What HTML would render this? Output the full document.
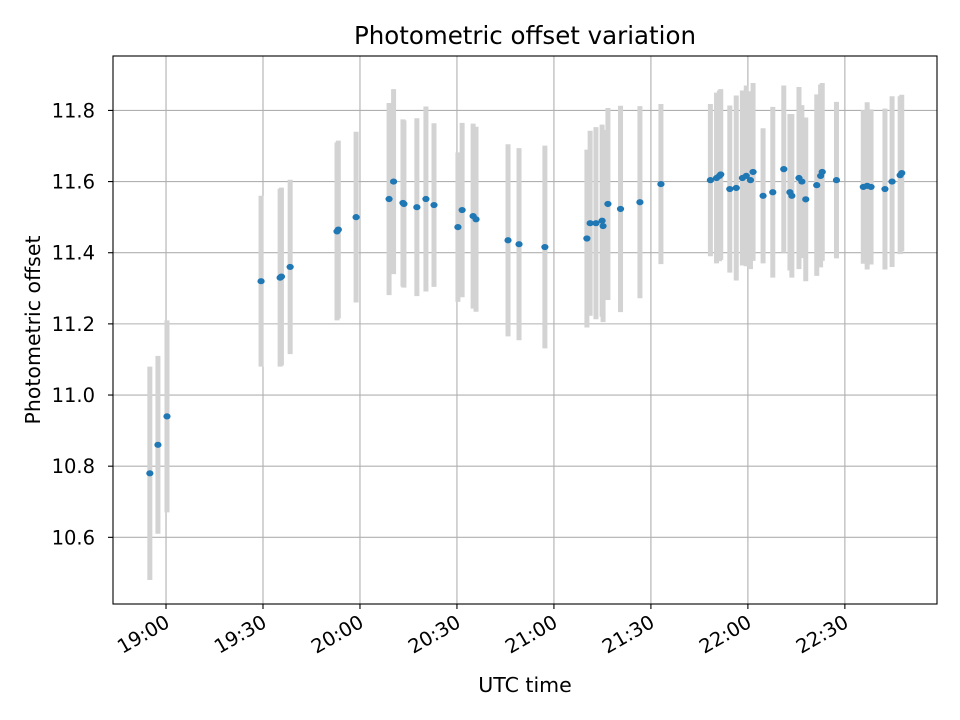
<!DOCTYPE html>
<html><head><meta charset="utf-8"><style>
body{margin:0;background:#fff}
svg{display:block;font-family:"DejaVu Sans","Liberation Sans",sans-serif}
</style></head><body>
<svg id="chart" width="960" height="720" viewBox="0 0 960 720">
<rect width="960" height="720" fill="#fff"/>
<text x="525" y="44" font-size="24.5" text-anchor="middle">Photometric offset variation</text>
<g id="grid"></g><g id="bars"></g><g id="pts"></g><g id="axes"></g>
<text x="525" y="692" font-size="20.5" text-anchor="middle">UTC time</text>
<text transform="translate(40,330) rotate(-90)" font-size="20.5" text-anchor="middle">Photometric offset</text>
</svg>
<script>
// minutes after 19:00 UTC
const times=[-5,-2.5,0.3,29.4,35.3,35.7,38.4,52.9,53.3,58.8,69,70.4,73.3,73.6,77.6,80.4,82.9,90.3,91.6,95,95.9,105.8,109.2,117.2,130.2,131.2,133,134.9,135.2,136.7,140.6,146.6,153.1,168.4,170.3,171.2,171.6,174.4,176.4,178.3,179.5,180.8,181.6,184.7,187.7,191.1,193,193.6,195.8,196.7,197.9,201.3,202.5,203,207.4,215.7,216.9,218.1,222.4,224.6,227.1,227.6];
const offsets=[10.78,10.86,10.94,11.32,11.33,11.333,11.36,11.46,11.465,11.50,11.551,11.60,11.54,11.537,11.528,11.551,11.534,11.472,11.52,11.503,11.494,11.435,11.424,11.416,11.44,11.483,11.483,11.49,11.475,11.537,11.523,11.542,11.593,11.604,11.61,11.616,11.62,11.579,11.582,11.61,11.616,11.604,11.627,11.56,11.57,11.635,11.57,11.56,11.61,11.60,11.55,11.59,11.616,11.627,11.604,11.585,11.588,11.585,11.579,11.60,11.618,11.624];
const errors=[0.3,0.25,0.27,0.24,0.25,0.25,0.245,0.25,0.25,0.24,0.27,0.26,0.235,0.235,0.25,0.26,0.23,0.21,0.245,0.26,0.26,0.27,0.27,0.285,0.25,0.26,0.27,0.27,0.27,0.27,0.29,0.27,0.225,0.214,0.24,0.24,0.24,0.235,0.26,0.246,0.254,0.25,0.25,0.19,0.24,0.235,0.22,0.23,0.256,0.215,0.23,0.255,0.257,0.25,0.22,0.216,0.235,0.218,0.226,0.24,0.222,0.22];
const xTickVals=[0,30,60,90,120,150,180,210];
const xTickLabels=["19:00","19:30","20:00","20:30","21:00","21:30","22:00","22:30"];
const yTickVals=[10.6,10.8,11.0,11.2,11.4,11.6,11.8];
const yTickLabels=["10.6","10.8","11.0","11.2","11.4","11.6","11.8"];

const L=113,R=937,T=56,B=604;
const xMin=-16.4,xMax=238.5,yMin=10.4126,yMax=11.953;
const sx=v=>L+(v-xMin)/(xMax-xMin)*(R-L);
const sy=v=>B-(v-yMin)/(yMax-yMin)*(B-T);
const NS="http://www.w3.org/2000/svg";
function mk(tag,attrs,parent){const e=document.createElementNS(NS,tag);for(const k in attrs)e.setAttribute(k,attrs[k]);parent.appendChild(e);return e;}
const grid=document.getElementById('grid'),bars=document.getElementById('bars'),pts=document.getElementById('pts'),axes=document.getElementById('axes');
xTickVals.forEach((v,i)=>{
  const x=sx(v);
  const g=mk('line',{x1:x,x2:x,y1:T,y2:B,stroke:'#b0b0b0','stroke-width':1.1},grid);
  
  
  mk('line',{x1:x,x2:x,y1:B,y2:B+5,stroke:'#000','stroke-width':1.1},axes);
  const t=mk('text',{x:x+5,y:B+22,'font-size':19.5,'text-anchor':'end',transform:`rotate(-30 ${x+5} ${B+22})`},axes);
  t.textContent=xTickLabels[i];
  
  
});
yTickVals.forEach((v,i)=>{
  const y=sy(v);
  const g=mk('line',{x1:L,x2:R,y1:y,y2:y,stroke:'#b0b0b0','stroke-width':1.1},grid);
  
  
  mk('line',{x1:L-5,x2:L,y1:y,y2:y,stroke:'#000','stroke-width':1.1},axes);
  const t=mk('text',{x:L-18,y:y+7,'font-size':19.5,'text-anchor':'end'},axes);
  t.textContent=yTickLabels[i];
  
  
});
times.forEach((tm,i)=>{
  const x=sx(tm);
  const b=mk('line',{x1:x,x2:x,y1:sy(offsets[i]+errors[i]),y2:sy(offsets[i]-errors[i]),stroke:'#d3d3d3','stroke-width':5},bars);
  
  
});
times.forEach((tm,i)=>{
  const c=mk('ellipse',{cx:sx(tm),cy:sy(offsets[i]),rx:3.6,ry:3.1,fill:'#1f77b4'},pts);
  
  
});
const f=mk('rect',{x:L,y:T,width:R-L,height:B-T,fill:'none',stroke:'#000','stroke-width':1.1},axes);


</script>
</body></html>
